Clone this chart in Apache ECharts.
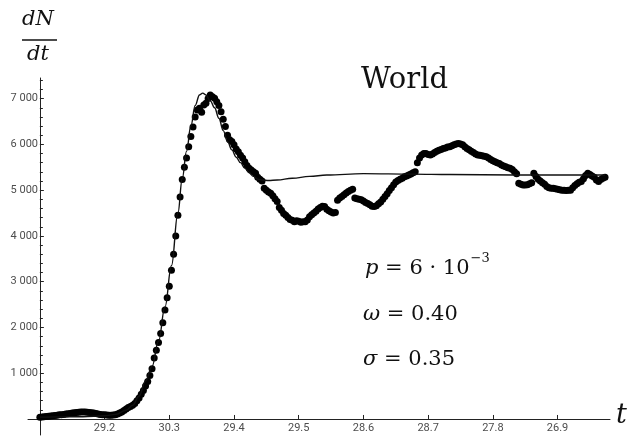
<!DOCTYPE html>
<html>
<head>
<meta charset="utf-8">
<script src="https://cdn.jsdelivr.net/npm/echarts@6/dist/echarts.min.js"></script>
<style>
	html, body { margin: 0; padding: 0; background: #fff; }
	#chart { width: 639px; height: 439px; }
</style>
</head>
<body>
<div id="chart"></div>
<script type="text/javascript">
	// day 0 = 30.1, one value per day
	var deaths = [
		40, 45, 50, 55, 60, 65, 70, 75, 80, 90,
		95, 100, 110, 115, 120, 130, 135, 140, 145, 150,
		150, 150, 145, 140, 135, 130, 120, 110, 100, 95,
		90, 85, 80, 80, 85, 95, 110, 130, 155, 185,
		220, 250, 270, 300, 340, 400, 460, 540, 620, 720,
		820, 950, 1100, 1330, 1500, 1670, 1870, 2100, 2380, 2650,
		2900, 3250, 3600, 4000, 4450, 4850, 5230, 5500, 5700, 5950,
		6170, 6380, 6600, 6750, 6790, 6700, 6860, 6900, 7000, 7080,
		7040, 7010, 6930, 6850, 6710, 6550, 6390, 6200, 6100, 6060,
		5990, 5900, 5840, 5760, 5700, 5620, 5540, 5480, 5440, 5400,
		5370, 5280, 5240, 5200, 5040, 5000, 4960, 4930, 4880, 4810,
		4750, 4620, 4560, 4490, 4450, 4400, 4360, 4340, 4310, 4330,
		4320, 4300, 4310, 4310, 4350, 4420, 4460, 4500, 4540, 4590,
		4620, 4650, 4640, 4580, 4550, 4520, 4500, 4510, 4780, 4830,
		4860, 4900, 4940, 4970, 5000, 5020, 4830, 4810, 4800, 4790,
		4760, 4730, 4710, 4680, 4650, 4640, 4660, 4700, 4740, 4800,
		4860, 4920, 4990, 5050, 5120, 5180, 5210, 5240, 5260, 5290,
		5310, 5330, 5350, 5380, 5400, 5600, 5700, 5770, 5800, 5800,
		5780, 5770, 5790, 5820, 5850, 5870, 5890, 5910, 5920, 5940,
		5950, 5970, 5990, 6010, 6020, 6010, 5990, 5950, 5910, 5880,
		5850, 5820, 5790, 5770, 5760, 5750, 5740, 5730, 5700, 5670,
		5640, 5620, 5600, 5580, 5550, 5530, 5510, 5490, 5480, 5450,
		5400, 5360, 5150, 5130, 5110, 5110, 5120, 5140, 5160, 5370,
		5300, 5240, 5200, 5160, 5130, 5080, 5050, 5040, 5040, 5030,
		5020, 5010, 5000, 5000, 4990, 5000, 5000, 5050, 5100, 5140,
		5170, 5190, 5250, 5320, 5370, 5340, 5310, 5280, 5220, 5190,
		5230, 5260, 5280
	];

	// model curve
	var modelDays = [0, 10, 20, 30, 35, 40, 43, 46, 49, 52, 55, 58, 61, 64, 66, 68, 70, 72, 74, 75.5,
		77, 79, 81, 83, 85, 87, 89, 91, 93, 95, 97, 99, 101, 103, 106, 110, 117, 125, 133, 150, 173, 190, 220, 262];
	var modelValues = [40, 45, 50, 70, 100, 190, 300, 500, 830, 1150, 1700, 2450, 3350, 4500, 5250, 5850, 6400, 6850, 7080, 7120,
		7080, 6950, 6800, 6570, 6300, 6060, 5880, 5720, 5600, 5480, 5380, 5300, 5240, 5220, 5210, 5220, 5260, 5300, 5330, 5360, 5350, 5340, 5330, 5330];

	var xTickValues = [30, 60, 90, 120, 150, 180, 210, 240];
	var xTickLabels = ['29.2', '30.3', '29.4', '29.5', '28.6', '28.7', '27.8', '26.9'];
	var yTickValues = [1000, 2000, 3000, 4000, 5000, 6000, 7000];
	var yTickLabels = ['1 000', '2 000', '3 000', '4 000', '5 000', '6 000', '7 000'];
	var yMinorValues = [200, 400, 600, 800, 1200, 1400, 1600, 1800, 2200, 2400, 2600, 2800, 3200, 3400, 3600, 3800,
		4200, 4400, 4600, 4800, 5200, 5400, 5600, 5800, 6200, 6400, 6600, 6800, 7200, 7400];

	var scatterData = deaths.map(function (v, i) { return [i, v]; });
	var modelData = modelDays.map(function (d, i) { return [d, modelValues[i]]; });

	var axisColor = '#222';
	var labelStyle = { color: '#4d4d4d', fontFamily: 'Roboto', fontSize: 11 };
	var serif = 'DejaVu Serif';

	// width of "p = 6 · 10" so the exponent sits right after it
	var ctx = document.createElement('canvas').getContext('2d');
	ctx.font = '21px "' + serif + '"';
	var pWidth = ctx.measureText(' = 6 · 10').width;
	ctx.font = 'italic 21px "' + serif + '"';
	pWidth += ctx.measureText('p').width;

	var myChart = echarts.init(document.getElementById('chart'), null, { renderer: 'canvas' });
	var option = {
		animation: false,
		backgroundColor: '#fff',
		grid: { left: 28, right: 29, top: 78, bottom: 4, containLabel: false, outerBoundsMode: 'none' },
		xAxis: {
			type: 'value',
			min: -5.5,
			max: 264.3,
			axisLine: { onZero: true, lineStyle: { color: axisColor, width: 1 } },
			axisTick: { inside: true, length: 4, customValues: xTickValues, lineStyle: { color: axisColor } },
			// labels stay on the grid edge, pull them up to the zero line
			axisLabel: Object.assign({
				customValues: xTickValues,
				margin: -12,
				formatter: function (v) {
					var k = xTickValues.indexOf(v);
					return k < 0 ? '' : xTickLabels[k];
				}
			}, labelStyle),
			splitLine: { show: false }
		},
		yAxis: [{
			type: 'value',
			position: 'left',
			min: -350,
			max: 7450,
			axisLine: { onZero: true, lineStyle: { color: axisColor, width: 1 } },
			axisTick: { inside: true, length: 4, customValues: yTickValues, lineStyle: { color: axisColor } },
			axisLabel: Object.assign({
				customValues: yTickValues,
				margin: -10,
				formatter: function (v) {
					var k = yTickValues.indexOf(v);
					return k < 0 ? '' : yTickLabels[k];
				}
			}, labelStyle),
			splitLine: { show: false }
		}, {
			// minor ticks only
			type: 'value',
			position: 'left',
			min: -350,
			max: 7450,
			axisLine: { show: false, onZero: true, onZeroAxisIndex: 0 },
			axisTick: { show: true, inside: true, length: 3, customValues: yMinorValues, lineStyle: { color: axisColor, width: 1 } },
			axisLabel: { show: false },
			splitLine: { show: false }
		}],
		series: [{
			name: 'model',
			type: 'line',
			data: modelData,
			smooth: 0.4,
			smoothMonotone: 'x',
			showSymbol: false,
			lineStyle: { color: '#111', width: 1.4 },
			z: 3
		}, {
			name: 'data',
			type: 'scatter',
			data: scatterData,
			symbolSize: 7,
			itemStyle: { color: '#000', opacity: 1 },
			z: 2
		}],
		graphic: [
			{ type: 'text', left: 22, top: 9, style: { text: 'dN', font: 'italic 21px "' + serif + '"', fill: '#111' } },
			{ type: 'line', shape: { x1: 22, y1: 40, x2: 57, y2: 40 }, style: { stroke: '#111', lineWidth: 1.3 } },
			{ type: 'text', left: 27, top: 44, style: { text: 'dt', font: 'italic 21px "' + serif + '"', fill: '#111' } },
			{ type: 'text', left: 361, top: 66, style: { text: 'World', font: '29px "' + serif + '"', fill: '#111' } },
			{ type: 'text', left: 616, top: 402, style: { text: 't', font: 'italic 27px "' + serif + '"', fill: '#111' } },
			{ type: 'text', left: 365, top: 258, style: {
				text: '{i|p} = 6 · 10', font: '21px "' + serif + '"', fill: '#111',
				rich: { i: { fontStyle: 'italic', fontSize: 21, fontFamily: serif } }
			} },
			{ type: 'text', left: 365 + pWidth + 1, top: 252, style: { text: '−3', font: '13px "' + serif + '"', fill: '#111' } },
			{ type: 'text', left: 363, top: 304, style: {
				text: '{i|ω} = 0.40', font: '21px "' + serif + '"', fill: '#111',
				rich: { i: { fontStyle: 'italic', fontSize: 21, fontFamily: serif } }
			} },
			{ type: 'text', left: 363, top: 349, style: {
				text: '{i|σ} = 0.35', font: '21px "' + serif + '"', fill: '#111',
				rich: { i: { fontStyle: 'italic', fontSize: 21, fontFamily: serif } }
			} }
		]
	};
	myChart.setOption(option);
</script>
</body>
</html>
